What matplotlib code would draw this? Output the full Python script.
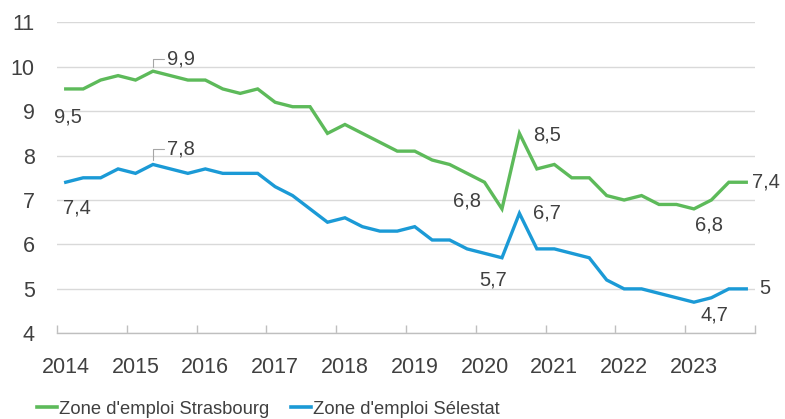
import numpy as np
from matplotlib import pyplot as plt

# quarterly rates, 2014 Q1 .. 2023 Q4
years = [2014, 2015, 2016, 2017, 2018, 2019, 2020, 2021, 2022, 2023]
strasbourg = [9.5, 9.5, 9.7, 9.8, 9.7, 9.9, 9.8, 9.7, 9.7, 9.5,
              9.4, 9.5, 9.2, 9.1, 9.1, 8.5, 8.7, 8.5, 8.3, 8.1,
              8.1, 7.9, 7.8, 7.6, 7.4, 6.8, 8.5, 7.7, 7.8, 7.5,
              7.5, 7.1, 7.0, 7.1, 6.9, 6.9, 6.8, 7.0, 7.4, 7.4]
selestat = [7.4, 7.5, 7.5, 7.7, 7.6, 7.8, 7.7, 7.6, 7.7, 7.6,
            7.6, 7.6, 7.3, 7.1, 6.8, 6.5, 6.6, 6.4, 6.3, 6.3,
            6.4, 6.1, 6.1, 5.9, 5.8, 5.7, 6.7, 5.9, 5.9, 5.8,
            5.7, 5.2, 5.0, 5.0, 4.9, 4.8, 4.7, 4.8, 5.0, 5.0]

green = '#5dba5a'
blue = '#1b9ad6'
txt = '#404040'

plt.rcParams['font.family'] = ['Liberation Sans', 'DejaVu Sans']

fig = plt.figure(figsize=(7.85, 4.19), dpi=100)
ax = fig.add_axes([57/785, (419-333.3)/419, (755-57)/785, (333.3-22.3)/419])

x = np.arange(len(strasbourg))
ax.plot(x, strasbourg, color=green, linewidth=2.4, label="Zone d'emploi Strasbourg", solid_joinstyle='miter')
ax.plot(x, selestat, color=blue, linewidth=2.4, label="Zone d'emploi Sélestat", solid_joinstyle='miter')

ax.set_xlim(-0.5, len(x) - 0.5)
ax.set_ylim(4, 11)
ax.set_yticks(range(4, 12))
ax.grid(axis='y', color='#d9d9d9', linewidth=1)
ax.set_axisbelow(True)

ax.set_xticks([4*i for i in range(len(years))])
ax.set_xticklabels([str(y) for y in years])
ax.set_xticks(np.arange(-0.5, len(x), 4), minor=True)
ax.tick_params(axis='x', which='major', length=0, pad=17, labelsize=15.5, labelcolor=txt)
ax.tick_params(axis='x', which='minor', direction='in', length=5.5, width=1, color='#bfbfbf')
ax.tick_params(axis='y', length=0, pad=16, labelsize=15.5, labelcolor=txt)
for s in ['top', 'right', 'left']:
    ax.spines[s].set_visible(False)
ax.spines['bottom'].set_color('#bfbfbf')
ax.spines['bottom'].set_linewidth(1)

def px(dx, dy):
    # pixel offset -> points (dpi 100), y down in picture
    return (dx * 0.72, -dy * 0.72)

fs = 14.5
labels = [
    (strasbourg, 0, (2, 28), 'center'),
    (selestat, 0, (11, 26), 'center'),
    (strasbourg, 25, (-35, -8), 'center'),
    (strasbourg, 26, (28, 2), 'center'),
    (strasbourg, 36, (15, 16), 'center'),
    (strasbourg, 39, (6, 0), 'left'),
    (selestat, 25, (-9, 22), 'center'),
    (selestat, 26, (28, 0), 'center'),
    (selestat, 36, (21, 13), 'center'),
    (selestat, 39, (13, 0), 'left'),
]
for serie, i, off, ha in labels:
    ax.annotate(f'{serie[i]:g}'.replace('.', ','), xy=(i, serie[i]), xytext=px(*off),
                textcoords='offset points', ha=ha, va='center', fontsize=fs, color=txt,
                annotation_clip=False)

# labels with leader lines
for serie, i, off in [(strasbourg, 5, (28, -12)), (selestat, 5, (28, -15))]:
    ax.annotate(f'{serie[i]:g}'.replace('.', ','), xy=(i, serie[i]), xytext=px(*off),
                textcoords='offset points', ha='center', va='center', fontsize=fs, color=txt,
                arrowprops=dict(arrowstyle='-', color='#a6a6a6', lw=0.8,
                                connectionstyle='angle,angleA=0,angleB=90,rad=0',
                                shrinkA=16, shrinkB=3))

leg = fig.legend(loc='center', bbox_to_anchor=(268/785, 1 - 409/419), ncol=2,
                 frameon=False, handlelength=1.1, handletextpad=0.1, columnspacing=1.2,
                 borderpad=0, borderaxespad=0,
                 prop={'size': 13.2})
for t in leg.get_texts():
    t.set_color(txt)
for l in leg.get_lines():
    l.set_linewidth(2.6)

plt.savefig('out.png', dpi=100)
